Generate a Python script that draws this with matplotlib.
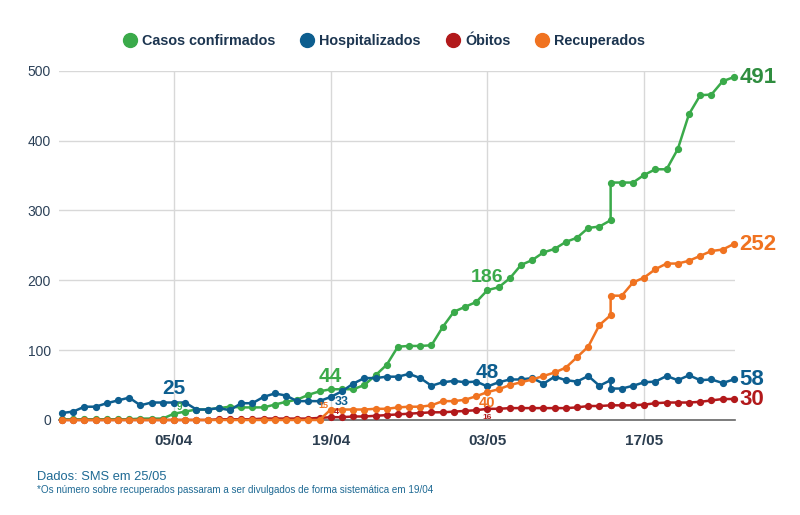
import matplotlib
matplotlib.use("Agg")
import matplotlib.pyplot as plt
import matplotlib.dates as mdates
from matplotlib.lines import Line2D
import pandas as pd

# ---------------- data ----------------
dates = (
    [d.strftime("%Y-%m-%d") for d in pd.date_range("2020-03-26", "2020-05-14")]
    + ["2020-05-14"]
    + [d.strftime("%Y-%m-%d") for d in pd.date_range("2020-05-15", "2020-05-25")]
)

casos = [1, 1, 1, 1, 1, 1, 1, 2, 2, 2,
         9, 12, 15, 15, 17, 19, 18, 18, 18, 22,
         26, 29, 36, 41, 44, 44, 44, 50, 64, 79,
         105, 106, 106, 107, 133, 155, 162, 169, 186, 190,
         203, 222, 229, 240, 245, 255, 261, 275, 277, 286,
         340, 340, 340, 351, 359, 359, 388, 438, 465, 466,
         485, 491]

hospitalizados = [10, 12, 19, 19, 24, 28, 32, 21, 25, 25,
                  25, 25, 15, 15, 17, 14, 24, 24, 33, 38,
                  35, 27, 27, 27, 33, 41, 52, 60, 60, 62,
                  62, 66, 60, 49, 54, 56, 54, 55, 48, 54,
                  58, 58, 60, 52, 62, 57, 55, 63, 49, 57,
                  45, 45, 49, 54, 55, 63, 57, 64, 57, 58,
                  53, 58]

obitos = [0, 0, 0, 0, 0, 0, 0, 0, 0, 0,
          0, 0, 0, 0, 1, 1, 1, 1, 2, 2,
          2, 2, 2, 3, 4, 4, 5, 5, 6, 7,
          8, 9, 10, 11, 11, 12, 13, 14, 16, 16,
          17, 17, 17, 17, 17, 17, 18, 20, 20, 21,
          21, 21, 21, 22, 24, 25, 25, 25, 26, 28,
          30, 30]

recuperados = [0, 0, 0, 0, 0, 0, 0, 0, 0, 0,
               0, 0, 0, 0, 0, 0, 0, 0, 0, 0,
               0, 0, 0, 0, 15, 15, 15, 15, 16, 16,
               18, 19, 19, 21, 27, 27, 29, 34, 40, 44,
               50, 54, 58, 63, 68, 75, 90, 105, 136, 150,
               178, 178, 197, 204, 216, 224, 224, 228, 235, 242,
               244, 252]

series_names = ["Casos confirmados", "Hospitalizados", "Óbitos", "Recuperados"]
x_ticks = ["2020-04-05", "2020-04-19", "2020-05-03", "2020-05-17"]
y_ticks = [0, 100, 200, 300, 400, 500]

# ---------------- style ----------------
GREEN = "#3aaa4a"
BLUE = "#0d5e8f"
RED = "#b2191b"
ORANGE = "#f07321"
TEXT = "#1c3550"

plt.rcParams["font.family"] = ["Liberation Sans", "DejaVu Sans"]

x = pd.to_datetime(dates)

fig = plt.figure(figsize=(8.0, 5.15), dpi=100)
ax = fig.add_axes([0.074, 0.1845, 0.845, 0.678])

for vals, col in [(casos, GREEN), (hospitalizados, BLUE), (obitos, RED), (recuperados, ORANGE)]:
    ax.plot(x, vals, color=col, lw=1.8, marker="o", ms=4.2, clip_on=False, zorder=3)

ax.set_ylim(0, 500)
ax.set_xlim(pd.Timestamp("2020-03-26") - pd.Timedelta(hours=6),
            pd.Timestamp("2020-05-25") + pd.Timedelta(hours=3))
ax.set_yticks(y_ticks)
ax.set_xticks(pd.to_datetime(x_ticks))
ax.xaxis.set_major_formatter(mdates.DateFormatter("%d/%m"))
ax.grid(True, color="#d8d8d8", lw=1.0)
ax.set_axisbelow(True)
for s in ["top", "right", "left"]:
    ax.spines[s].set_visible(False)
ax.spines["bottom"].set_color("#666666")
ax.spines["bottom"].set_linewidth(1.2)
ax.tick_params(axis="both", length=0)
ax.tick_params(axis="y", labelsize=10, labelcolor="#2c4158", pad=6)
ax.tick_params(axis="x", labelsize=11, labelcolor="#2c3e50", pad=10)
for lab_ in ax.get_xticklabels():
    lab_.set_fontweight("bold")

# ---------------- annotations ----------------
def idx(date):
    return dates.index(date)

i05 = idx("2020-04-05")
i19 = idx("2020-04-19")
i03 = idx("2020-05-03")

def lab(date_i, vals, dx, dy, col, size, ha="center", va="center"):
    ax.annotate(str(vals[date_i]), (x[date_i], vals[date_i]), xytext=(dx, dy),
                textcoords="offset points", ha=ha, va=va, color=col,
                fontsize=size, fontweight="bold", zorder=6, annotation_clip=False)

lab(i05, hospitalizados, 0, 3, BLUE, 15, va="bottom")
lab(i05, casos, 2, 5, GREEN, 7, ha="left")
lab(i19, casos, 0, 2.5, GREEN, 15, va="bottom")
lab(i19, hospitalizados, 3, -4, BLUE, 9, ha="left")
lab(i19, recuperados, -2, 3, ORANGE, 6.5, ha="right")
lab(i19, obitos, 2, 4, RED, 6.5, ha="left")
lab(i03, casos, 0, 9, GREEN, 14)
lab(i03, hospitalizados, 0, 3, BLUE, 15, va="bottom")
lab(i03, recuperados, 0, -8, ORANGE, 10.5)
lab(i03, obitos, 0, -6, RED, 6)

for vals, col in [(casos, "#2f8d3f"), (recuperados, ORANGE), (hospitalizados, BLUE), (obitos, RED)]:
    ax.annotate(str(vals[-1]), (x[-1], vals[-1]), xytext=(4, 0),
                textcoords="offset points", ha="left", va="center",
                color=col, fontsize=16, fontweight="bold", annotation_clip=False)

# ---------------- legend ----------------
handles = [Line2D([], [], ls="", marker="o", ms=10, color=c) for c in (GREEN, BLUE, RED, ORANGE)]
fig.legend(handles, series_names, loc="center", bbox_to_anchor=(0.479, 0.920), ncol=4,
           frameon=False, handletextpad=0.25, columnspacing=1.6, handlelength=1.2,
           labelcolor=TEXT, prop={"weight": "bold", "size": 10.4})

# ---------------- footer ----------------
fig.text(0.046, 0.068, "Dados: SMS em 25/05", fontsize=9.3, color="#1f6a94")
fig.text(0.046, 0.043, "*Os número sobre recuperados passaram a ser divulgados de forma sistemática em 19/04",
         fontsize=7.1, color="#1f6a94")

fig.savefig("out.png", dpi=100)
